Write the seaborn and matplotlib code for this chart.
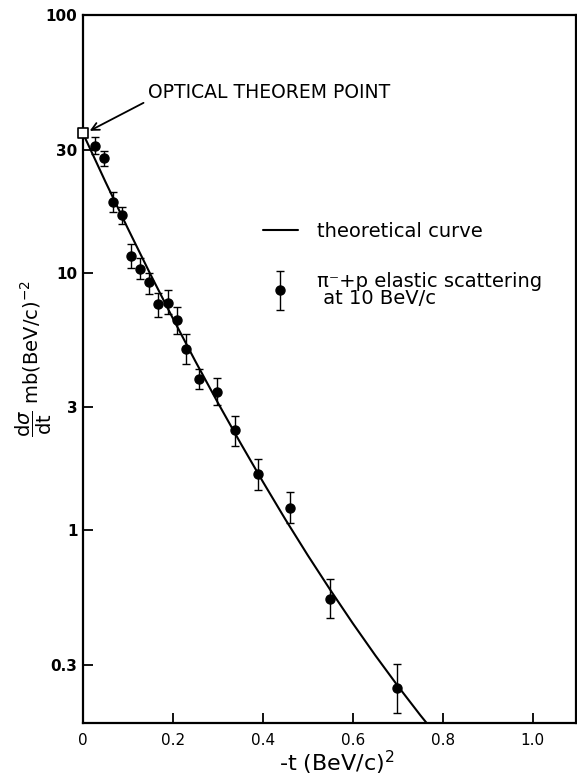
import matplotlib
matplotlib.use("Agg")
import matplotlib.pyplot as plt
import seaborn as sns
import pandas as pd
from matplotlib.legend_handler import HandlerErrorbar
from matplotlib.container import ErrorbarContainer

# measured pi- p elastic scattering at 10 BeV/c
t_data = [0.027, 0.047, 0.067, 0.087, 0.107, 0.127, 0.147, 0.167, 0.188, 0.208,
          0.228, 0.259, 0.297, 0.339, 0.390, 0.460, 0.550, 0.698]
dsdt = [31.0, 27.8, 18.8, 16.7, 11.6, 10.3, 9.16, 7.52, 7.63, 6.54,
        5.03, 3.86, 3.43, 2.45, 1.65, 1.22, 0.538, 0.243]
err_hi = [33.6, 29.7, 20.5, 18.0, 12.9, 11.4, 10.0, 8.35, 8.55, 7.37,
          5.77, 4.22, 3.88, 2.77, 1.89, 1.40, 0.643, 0.302]
err_lo = [28.8, 26.0, 17.2, 15.4, 10.4, 9.4, 8.26, 6.73, 6.88, 5.77,
          4.40, 3.52, 3.06, 2.12, 1.43, 1.06, 0.454, 0.194]

# theoretical curve
t_theory = [0.0, 0.05, 0.10, 0.15, 0.20, 0.25, 0.30, 0.35, 0.40, 0.45,
            0.50, 0.55, 0.60, 0.65, 0.70, 0.75, 0.80]
y_theory = [34.7, 22.5, 14.8, 9.84, 6.63, 4.52, 3.12, 2.18, 1.54, 1.10,
            0.797, 0.585, 0.434, 0.326, 0.248, 0.191, 0.149]

# optical theorem point
t_opt = [0.0]
y_opt = [34.7]

x_ticks = [0, 0.2, 0.4, 0.6, 0.8, 1.0]
x_ticklabels = ["0", "0.2", "0.4", "0.6", "0.8", "1.0"]
y_ticks = [0.3, 1, 3, 10, 30, 100]
y_ticklabels = ["0.3", "1", "3", "10", "30", "100"]

sns.set_theme(style="ticks")
plt.rcParams['font.family'] = ['DejaVu Sans']
plt.rcParams['mathtext.fontset'] = 'dejavusans'
plt.rcParams['text.color'] = 'black'
plt.rcParams['axes.labelcolor'] = 'black'

fig = plt.figure(figsize=(5.77, 7.78), dpi=100)
ax = fig.add_axes([0.1438, 0.0707, 0.8542, 0.91])

theory = pd.DataFrame({"t": t_theory, "y": y_theory})
sns.lineplot(data=theory, x="t", y="y", ax=ax, color="black", lw=1.5,
             label="theoretical curve", legend=False)

yerr = [[v - lo for v, lo in zip(dsdt, err_lo)],
        [hi - v for v, hi in zip(dsdt, err_hi)]]
eb = ax.errorbar(t_data, dsdt, yerr=yerr, fmt="o", color="black", ms=6.5,
                 elinewidth=1.0, capsize=3, capthick=1.0)

sns.scatterplot(x=t_opt, y=y_opt, ax=ax, marker="s", s=45, facecolor="white",
                edgecolor="black", linewidth=1.2, zorder=5, clip_on=False)

ax.set_yscale("log")
ax.set_xlim(0, 1.096)
ax.set_ylim(0.178, 100)
ax.set_xticks(x_ticks)
ax.set_xticklabels(x_ticklabels, fontsize=11, color="black")
ax.set_yticks(y_ticks)
ax.set_yticklabels(y_ticklabels, fontsize=11, fontweight="bold", color="black")
ax.minorticks_off()
ax.tick_params(axis="x", direction="in", length=7, width=1.3, pad=7, colors="black")
ax.tick_params(axis="y", direction="in", length=7, width=1.3, pad=4, colors="black")
ax.xaxis.get_major_ticks()[0].tick1line.set_visible(False)
for s in ax.spines.values():
    s.set_linewidth(1.6)
    s.set_color("black")

ax.set_xlabel("-t (BeV/c)$^2$", fontsize=16)
ax.xaxis.set_label_coords(0.515, -0.037)
ax.set_ylabel(r"$\dfrac{\mathrm{d}\sigma}{\mathrm{dt}}$ mb(BeV/c)$^{-2}$",
              fontsize=14, va="center")
ax.yaxis.set_label_coords(-0.1, 0.515)

ax.annotate("OPTICAL THEOREM POINT", xy=(0.004, 34.7), xytext=(0.132, 0.89),
            textcoords="axes fraction", fontsize=13.5, ha="left", va="center",
            arrowprops=dict(arrowstyle="->", color="black", lw=1.3,
                            shrinkA=1, shrinkB=4, relpos=(0, 0.1)))

line_handle = ax.lines[0]
leg = ax.legend(handles=[line_handle, eb],
                labels=["theoretical curve", "π⁻+p elastic scattering\n at 10 BeV/c"],
                handler_map={ErrorbarContainer: HandlerErrorbar(yerr_size=1.0)},
                loc="upper left", bbox_to_anchor=(0.365, 0.708), frameon=False,
                fontsize=14, handlelength=1.8, handletextpad=1.0, labelspacing=1.6,
                borderpad=0, borderaxespad=0)
for txt in leg.get_texts():
    txt.set_linespacing(0.85)
    txt.set_color("black")

fig.savefig("out.png", dpi=100)
